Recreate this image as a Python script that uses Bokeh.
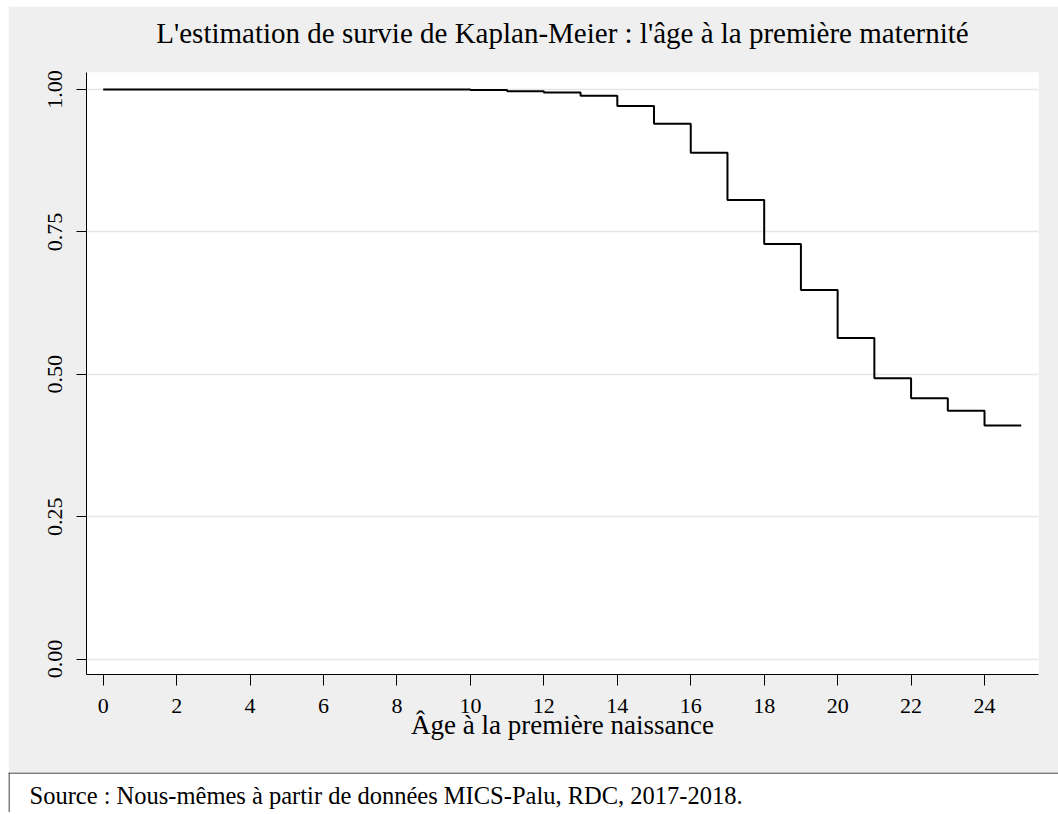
from bokeh.plotting import figure
from bokeh.layouts import column
from bokeh.models import Range1d, FixedTicker, NumeralTickFormatter, Span, Label, Title
from bokeh.embed import file_html
from bokeh.resources import INLINE

# Kaplan-Meier survival estimate: age at first birth
ages = [0, 10, 11, 12, 13, 14, 15, 16, 17, 18, 19, 20, 21, 22, 23, 24, 25]
survival = [1.000, 0.9993, 0.997, 0.995, 0.989, 0.971, 0.940, 0.889, 0.806,
            0.729, 0.648, 0.564, 0.493, 0.458, 0.436, 0.410, 0.410]

x_ticks = [0, 2, 4, 6, 8, 10, 12, 14, 16, 18, 20, 22, 24]
y_ticks = [0.0, 0.25, 0.50, 0.75, 1.00]

title_text = "L'estimation de survie de Kaplan-Meier : l'âge à la première maternité"
x_title = "Âge à la première naissance"
source_note = "Source : Nous-mêmes à partir de données MICS-Palu, RDC, 2017-2018."

SERIF = "Liberation Serif"
BG = "#efefef"

p = figure(width=1050, height=766,
           x_range=Range1d(-0.455, 25.47), y_range=Range1d(-0.027, 1.03),
           output_backend="svg", toolbar_location=None,
           min_border_left=78, min_border_right=20,
           min_border_top=66, min_border_bottom=98,
           background_fill_color="white", border_fill_color=BG,
           outline_line_color=None, margin=(6, 0, 0, 8))
p.frame_align = False

p.step(ages, survival, mode="after", line_color="black", line_width=2)

# blank gap between the plot region and the title
p.add_layout(Title(text=" ", text_font_size="10px", text_color=BG, standoff=11), "above")
# graph title
p.add_layout(Title(text=title_text, text_font=SERIF, text_font_style="normal",
                   text_font_size="29px", text_color="black", align="center",
                   standoff=0), "above")

# x axis
xa = p.xaxis[0]
xa.ticker = FixedTicker(ticks=x_ticks)
xa.axis_label = x_title
xa.axis_label_text_font = SERIF
xa.axis_label_text_font_style = "normal"
xa.axis_label_text_font_size = "27px"
xa.axis_label_text_color = "black"
xa.axis_label_standoff = -6
xa.major_label_text_font = SERIF
xa.major_label_text_font_size = "22px"
xa.major_label_text_color = "black"
xa.major_label_standoff = 13
xa.major_tick_out = 11
xa.major_tick_in = 0
xa.minor_tick_out = 0
xa.minor_tick_in = 0
xa.axis_line_color = "black"
xa.major_tick_line_color = "black"

# y axis
ya = p.yaxis[0]
ya.ticker = FixedTicker(ticks=y_ticks)
ya.formatter = NumeralTickFormatter(format="0.00")
ya.major_label_orientation = "vertical"
ya.major_label_text_font = SERIF
ya.major_label_text_font_size = "22px"
ya.major_label_text_color = "black"
ya.major_label_standoff = 14
ya.major_tick_out = 10
ya.major_tick_in = 0
ya.minor_tick_out = 0
ya.minor_tick_in = 0
ya.axis_line_color = "black"
ya.major_tick_line_color = "black"

p.xgrid.grid_line_color = None
p.ygrid.ticker = FixedTicker(ticks=y_ticks)
p.ygrid.grid_line_color = "#e6e6e6"
p.ygrid.grid_line_width = 1.5

# note box beneath the graph region
s = figure(width=1050, height=40, x_range=Range1d(0, 1050), y_range=Range1d(40, 0),
           output_backend="svg", toolbar_location=None,
           min_border=0, x_axis_location=None, y_axis_location=None,
           background_fill_color="white", border_fill_color="white",
           outline_line_color=None, margin=(0, 0, 0, 8))
s.frame_align = False
s.xgrid.visible = False
s.ygrid.visible = False
s.add_layout(Span(location=0.5, dimension="width", line_color="black", line_width=1))
s.add_layout(Span(location=0.5, dimension="height", line_color="black", line_width=1))
s.add_layout(Label(x=21, y=22.5, text=source_note, text_font=SERIF,
                   text_font_size="24.5px", text_color="black",
                   text_baseline="alphabetic"))

layout = column(p, s, spacing=0)
open("out.html", "w").write(file_html(layout, INLINE))
